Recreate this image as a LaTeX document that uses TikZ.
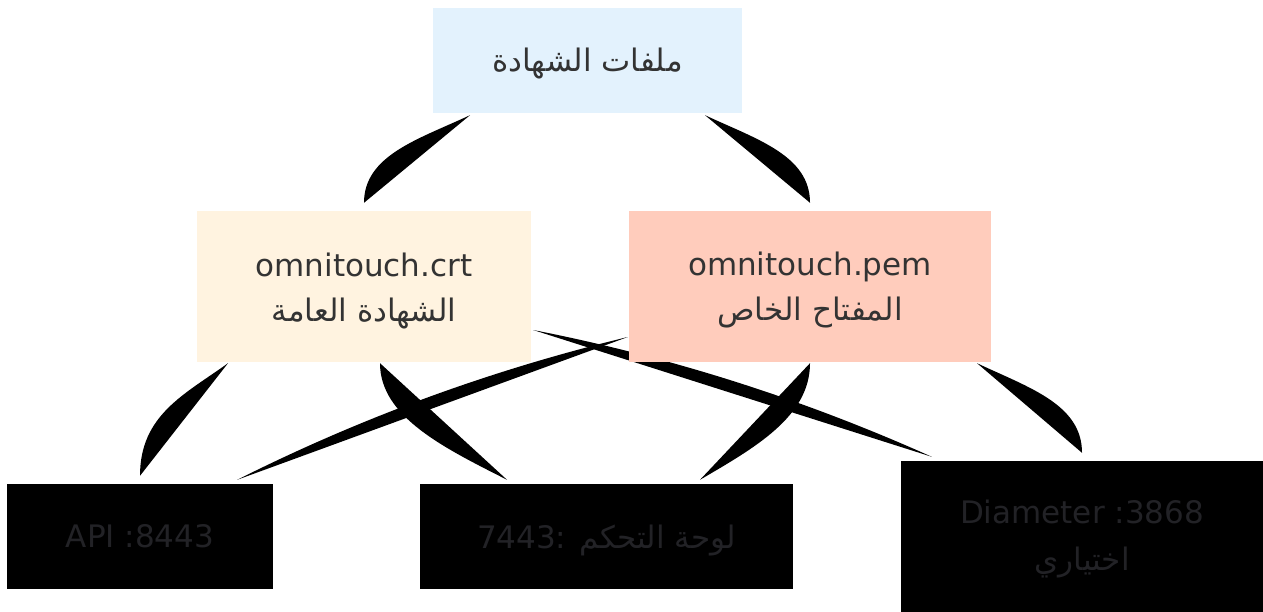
\documentclass[tikz,border=0pt]{standalone}
\usepackage{fontspec}
\setmainfont{DejaVu Sans}
\newfontfamily\arabicfont[Script=Arabic]{DejaVu Sans}
\TeXXeTstate=1
\usetikzlibrary{calc}
\pgfdeclarelayer{bg}
\pgfsetlayers{bg,main}
\definecolor{topfill}{HTML}{E3F2FD}
\definecolor{crtfill}{HTML}{FFF3E0}
\definecolor{pemfill}{HTML}{FFCCBC}
\definecolor{txt}{HTML}{333333}
\definecolor{dtxt}{HTML}{222226}
\newcommand\lowerline[2]{\raisebox{-#1}[\height][\depth]{#2}}
\begin{document}
\begin{tikzpicture}[x=1pt,y=-1pt,
  box/.style={inner sep=0pt, align=center, text=txt, font=\fontsize{31}{46}\selectfont},
  darkbox/.style={box, fill=black, text=dtxt},
  edgefill/.style={fill=black}]
\useasboundingbox (0,0) rectangle (1263,612);
\node[box, fill=topfill, minimum width=309pt, minimum height=105pt] (top) at (587.5,60.5)
  {\lowerline{3pt}{\arabicfont\beginR ملفات الشهادة\endR}};
\node[box, fill=crtfill, minimum width=334pt, minimum height=151pt] (crt) at (364,286.5)
  {\lowerline{4.5pt}{omnitouch.crt}\\\lowerline{4pt}{\arabicfont\beginR الشهادة العامة\endR}};
\node[box, fill=pemfill, minimum width=362pt, minimum height=151pt] (pem) at (810,286.5)
  {\lowerline{4pt}{omnitouch.pem}\\\lowerline{3.5pt}{\arabicfont\beginR المفتاح الخاص\endR}};
\node[darkbox, minimum width=266pt, minimum height=105pt] (api) at (140,536.5)
  {API :8443};
\node[darkbox, minimum width=373pt, minimum height=105pt] (console) at (606.5,536.5)
  {\lowerline{4pt}{7443: {\arabicfont\beginR لوحة التحكم\endR}}};
\node[darkbox, minimum width=362pt, minimum height=151pt] (diam) at (1082,536.5)
  {\lowerline{2pt}{Diameter :3868}\\\lowerline{3pt}{\arabicfont\beginR اختياري\endR}};
\begin{pgfonlayer}{bg}
\fill[edgefill] ([xshift=-117.5pt,yshift=-2pt]top.south) .. controls +(-51.5,24) and +(0,-47.5) .. ([yshift=8pt]crt.north) -- cycle;
\fill[edgefill] ([xshift=117.5pt,yshift=-2pt]top.south) .. controls +(51.5,24) and +(0,-47.5) .. ([yshift=8pt]pem.north) -- cycle;
\fill[edgefill] ([xshift=-136pt,yshift=-1pt]crt.south) .. controls +(-43,31) and +(0,-61) .. ([yshift=8pt]api.north) -- cycle;
\fill[edgefill] ([xshift=16pt,yshift=-1pt]crt.south) .. controls +(0,53.8) and +(-62.2,-31.6) .. ([xshift=-99.5pt,yshift=4pt]console.north) -- cycle;
\fill[edgefill] ([xshift=-1pt,yshift=-50.5pt]pem.west) .. controls +(-135.7,32.7) and +(124.9,-62.7) .. ([xshift=-36pt,yshift=4pt]api.north east) -- cycle;
\fill[edgefill] ([xshift=2pt,yshift=-43.5pt]crt.east) .. controls +(137.9,27.1) and +(-128.1,-57.5) .. ([xshift=31pt,yshift=4pt]diam.north west) -- cycle;
\fill[edgefill] ([yshift=-1pt]pem.south) .. controls +(0,53.8) and +(53.9,-31.6) .. ([xshift=93.5pt,yshift=4pt]console.north) -- cycle;
\fill[edgefill] ([xshift=167pt,yshift=-1pt]pem.south) .. controls +(51.5,24.3) and +(0,-48.6) .. ([yshift=8pt]diam.north) -- cycle;
\end{pgfonlayer}
\end{tikzpicture}
\end{document}
